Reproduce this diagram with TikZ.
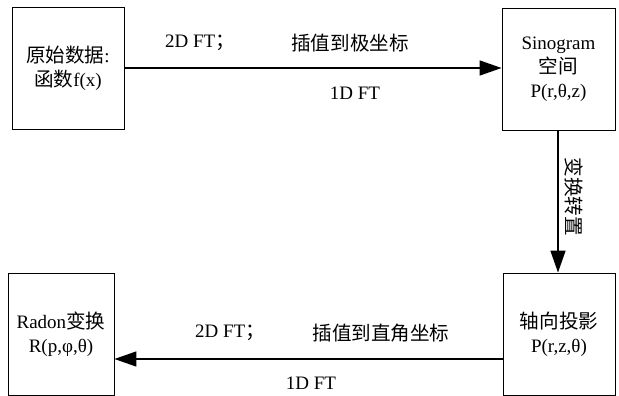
\documentclass[tikz,border=0pt]{standalone}
\usepackage{fontspec}
\setmainfont{Liberation Serif}
\newfontfamily\cjk[Scale=1.03]{Noto Sans CJK SC}
\usetikzlibrary{arrows.meta}
\tikzset{
  box/.style={draw=black, line width=0.9pt, minimum width=#1, minimum height=122pt, inner sep=0pt, align=center, font=\fontsize{19}{24}\selectfont},
  arr/.style={draw=black, line width=1.6pt, -{Triangle[length=22pt,width=15pt]}},
  lbl/.style={inner sep=0pt, font=\fontsize{19}{24}\selectfont}
}
\begin{document}
\begin{tikzpicture}[x=1pt,y=-1pt]
\useasboundingbox (0,0) rectangle (619,396);
\node[box=112pt] (b1) at (68,68) {{\cjk 原始数据}:\\{\cjk 函数}f(x)};
\node[box=113pt] (b2) at (558.5,69) {Sinogram\\{\cjk 空间}\\P(r,θ,z)};
\node[box=112pt] (b3) at (559,334) {{\cjk 轴向投影}\\P(r,z,θ)};
\node[box=106pt] (b4) at (61,334) {Radon{\cjk 变换}\\R(p,φ,θ)};
\coordinate (ylow) at (0,359);
\draw[arr] (b1.east) -- (b2.west |- b1.east);
\draw[arr] (b2.south -| 558,0) -- (b3.north -| 558,0);
\draw[arr] (b3.west |- ylow) -- (b4.east |- ylow);
\node[lbl] (t1) at (200,43) {2D FT{\cjk ；}};
\node[lbl] (t2) at (350,43) {\cjk 插值到极坐标};
\node[lbl] (t3) at (355,93) {1D FT};
\node[lbl, rotate=-90] (t4) at (574,197) {\cjk 变换转置};
\node[lbl] (t5) at (230,333) {2D FT{\cjk ；}};
\node[lbl] (t6) at (381,333) {\cjk 插值到直角坐标};
\node[lbl] (t7) at (311,383) {1D FT};
\end{tikzpicture}
\end{document}
